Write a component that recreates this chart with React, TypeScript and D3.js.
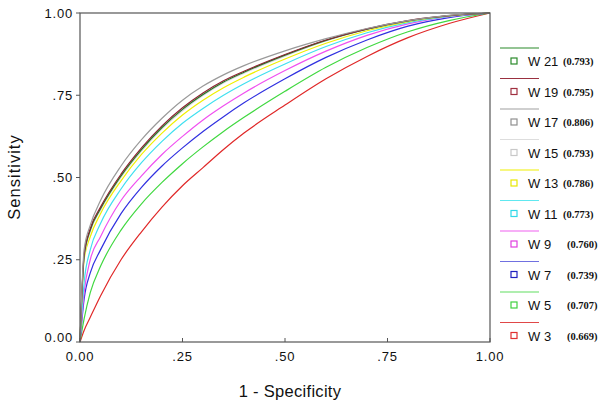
import React from "react";
import * as d3 from "d3";

const fpr = [0, 0.01, 0.025, 0.05, 0.1, 0.15, 0.2, 0.25, 0.3, 0.35, 0.4, 0.5, 0.6, 0.7, 0.8, 0.9, 1];

const w3 = [0, 0.035, 0.075, 0.14, 0.25, 0.335, 0.41, 0.475, 0.53, 0.585, 0.635, 0.72, 0.8, 0.868, 0.925, 0.968, 1];
const w5 = [0, 0.07, 0.15, 0.23, 0.34, 0.42, 0.485, 0.542, 0.593, 0.64, 0.683, 0.762, 0.835, 0.895, 0.943, 0.977, 1];
const w7 = [0, 0.13, 0.21, 0.28, 0.39, 0.47, 0.535, 0.59, 0.64, 0.685, 0.727, 0.8, 0.865, 0.918, 0.96, 0.986, 1];
const w9 = [0, 0.15, 0.25, 0.32, 0.43, 0.505, 0.57, 0.625, 0.675, 0.718, 0.757, 0.825, 0.884, 0.932, 0.967, 0.989, 1];
const w11 = [0, 0.18, 0.28, 0.36, 0.465, 0.545, 0.61, 0.665, 0.71, 0.75, 0.785, 0.845, 0.898, 0.94, 0.971, 0.99, 1];
const w13 = [0, 0.25, 0.32, 0.39, 0.49, 0.57, 0.635, 0.69, 0.735, 0.773, 0.805, 0.86, 0.908, 0.946, 0.974, 0.991, 1];
const w15 = [0, 0.255, 0.335, 0.4, 0.5, 0.58, 0.648, 0.703, 0.749, 0.787, 0.817, 0.869, 0.915, 0.95, 0.976, 0.992, 1];
const w17 = [0, 0.28, 0.355, 0.43, 0.535, 0.615, 0.68, 0.735, 0.778, 0.812, 0.84, 0.885, 0.922, 0.953, 0.977, 0.993, 1];
const w19 = [0, 0.265, 0.345, 0.41, 0.51, 0.59, 0.657, 0.712, 0.757, 0.794, 0.823, 0.874, 0.918, 0.952, 0.977, 0.992, 1];
const w21 = [0, 0.26, 0.34, 0.405, 0.505, 0.585, 0.652, 0.707, 0.752, 0.79, 0.82, 0.872, 0.917, 0.951, 0.976, 0.992, 1];

const seriesNames = ["W 21", "W 19", "W 17", "W 15", "W 13", "W 11", "W 9", "W 7", "W 5", "W 3"];
const aucLabels = ["(0.793)", "(0.795)", "(0.806)", "(0.793)", "(0.786)", "(0.773)", "(0.760)", "(0.739)", "(0.707)", "(0.669)"];
const seriesValues = [w21, w19, w17, w15, w13, w11, w9, w7, w5, w3];
const lineColors = ["#1f7a1f", "#8b2535", "#9a9a9a", "#d8d8d8", "#f0f000", "#40e0f0", "#f050f0", "#3030e0", "#40d840", "#e02828"];
const legendLineColors = ["#2a8a2a", "#9a3040", "#a0a0a0", "#dddddd", "#f0f000", "#60e8f0", "#f060f0", "#7070e0", "#60dd60", "#e04848"];
const squareColors = ["#2a8a2a", "#a03040", "#909090", "#c8c8c8", "#e8e800", "#30d8e8", "#e040e0", "#2020c0", "#40d040", "#e03030"];

const xTicks = [0, 0.25, 0.5, 0.75, 1];
const xTickLabels = ["0.00", ".25", ".50", ".75", "1.00"];
const yTicks = [1, 0.75, 0.5, 0.25, 0];
const yTickLabels = ["1.00", ".75", ".50", ".25", "0.00"];

const FONT = "'Liberation Sans', Arial, sans-serif";

export default function App() {
  const left = 80, right = 490, top = 13, bottom = 342;
  const x = d3.scaleLinear().domain([0, 1]).range([left, right]);
  const y = d3.scaleLinear().domain([0, 1]).range([bottom, top]);
  const line = d3
    .line<number>()
    .x((_, i) => x(fpr[i]))
    .y((d) => y(d))
    .curve(d3.curveMonotoneX);

  const drawOrder = [9, 8, 7, 6, 5, 4, 3, 0, 1, 2];

  return (
    <svg width={600} height={406} style={{ position: "absolute", left: 0, top: 0, background: "#fff" }}>
      <rect x={0} y={0} width={600} height={406} fill="#fff" />
      {drawOrder.map((k) => (
        <path key={k} d={line(seriesValues[k]) || ""} fill="none" stroke={lineColors[k]} strokeWidth={1.2} />
      ))}
      <rect x={left} y={top} width={right - left} height={bottom - top} fill="none" stroke="#555" strokeWidth={1.2} />
      {yTicks.map((t, i) => (
        <g key={"y" + i}>
          <line x1={left - 4} x2={left} y1={y(t)} y2={y(t)} stroke="#555" strokeWidth={1} />
          <text
            x={left - 7}
            y={t === 0 ? y(t) - 5 : y(t)}
            dy="0.35em"
            textAnchor="end"
            fontFamily={FONT}
            fontSize={13}
            letterSpacing={0.8}
            fill="#111"
          >
            {yTickLabels[i]}
          </text>
        </g>
      ))}
      {xTicks.map((t, i) => (
        <g key={"x" + i}>
          <line x1={x(t)} x2={x(t)} y1={bottom - 4} y2={bottom} stroke="#555" strokeWidth={1} />
          <text x={x(t)} y={361} textAnchor="middle" fontFamily={FONT} fontSize={13} letterSpacing={0.8} fill="#111">
            {xTickLabels[i]}
          </text>
        </g>
      ))}
      <text
        transform="translate(20,177) rotate(-90)"
        textAnchor="middle"
        fontFamily={FONT}
        fontSize={16.5}
        letterSpacing={1}
        fill="#111"
      >
        Sensitivity
      </text>
      <text x={290} y={397} textAnchor="middle" fontFamily={FONT} fontSize={16.5} letterSpacing={0.3} fill="#111">
        1 - Specificity
      </text>
      {seriesNames.map((name, i) => {
        const ly = 48 + i * 30.5;
        const sy = 61 + i * 30.5;
        return (
          <g key={"l" + i}>
            <line x1={500} x2={539} y1={ly} y2={ly} stroke={legendLineColors[i]} strokeWidth={1.2} />
            <rect x={511} y={sy - 3} width={6} height={6} fill="#fff" stroke={squareColors[i]} strokeWidth={1.2} />
            <text x={528} y={sy + 5} fontFamily={FONT} fontSize={13} fill="#111">
              {name}
            </text>
            <text
              x={name.length > 3 ? 563 : 567}
              y={sy + 4}
              fontFamily="'Liberation Serif', 'Times New Roman', serif"
              fontWeight="bold"
              fontSize={10.5}
              fill="#111"
            >
              {aucLabels[i]}
            </text>
          </g>
        );
      })}
    </svg>
  );
}
